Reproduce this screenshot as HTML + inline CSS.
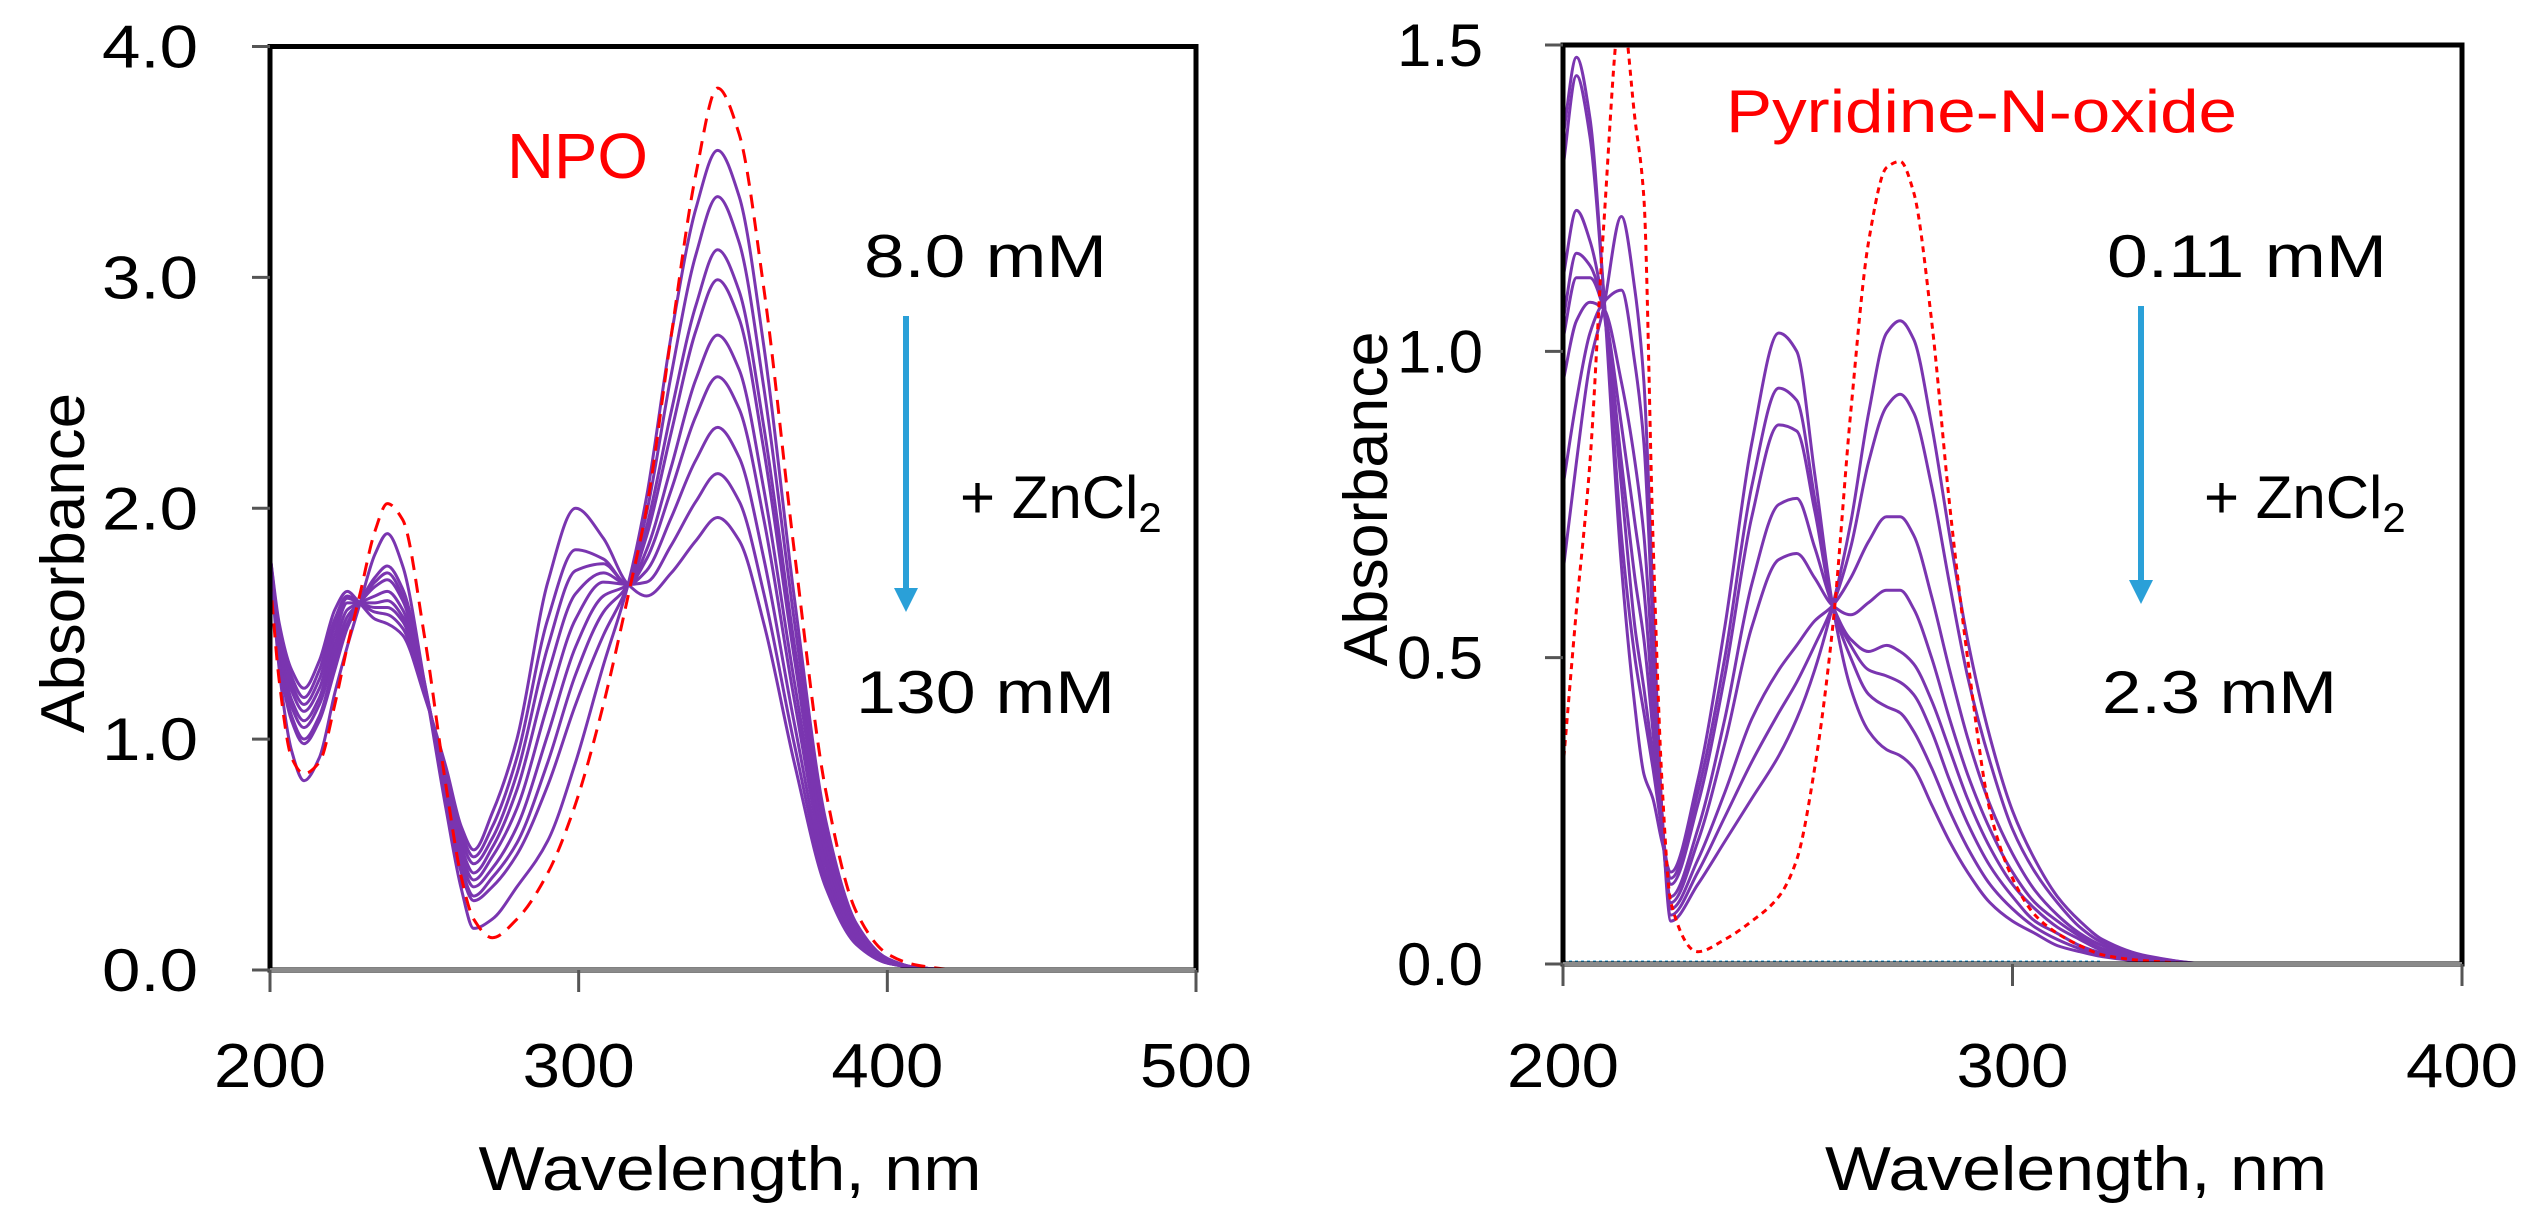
<!DOCTYPE html>
<html><head><meta charset="utf-8"><style>
html,body{margin:0;padding:0;background:#fff;}
svg{display:block;font-family:"Liberation Sans",sans-serif;}
</style></head><body>
<svg id="fig" width="2542" height="1222" viewBox="0 0 2542 1222" xmlns="http://www.w3.org/2000/svg">
<defs>
<clipPath id="clipL"><rect x="270" y="46" width="926" height="924"/></clipPath>
<clipPath id="clipR"><rect x="1563" y="45" width="899" height="921"/></clipPath>
</defs>
<g id="left"></g>
<g id="right"></g>
</svg>
<script>
// ---------- Left panel data (NPO) ----------
const wlL = [200,203,207,211,216,221,225,229,234,238,243,250,257,262,266,272,280,290,299,308,316,322,330,338,345,352,360,370,380,390,400,410,425,500];
const npoRed = [1.70,1.25,0.92,0.85,0.90,1.15,1.40,1.62,1.90,2.02,1.95,1.45,0.80,0.40,0.22,0.14,0.22,0.42,0.72,1.15,1.62,2.00,2.75,3.45,3.82,3.62,2.95,1.80,0.78,0.25,0.07,0.02,0,0];
const npo0 = [1.80,1.30,0.95,0.82,0.92,1.20,1.40,1.58,1.80,1.89,1.75,1.25,0.70,0.35,0.18,0.22,0.36,0.56,0.90,1.32,1.67,2.05,2.75,3.30,3.55,3.35,2.70,1.60,0.65,0.20,0.05,0.01,0,0];
const npo1 = [1.80,1.35,1.08,0.98,1.08,1.30,1.48,1.59,1.70,1.75,1.65,1.25,0.75,0.42,0.30,0.36,0.50,0.80,1.15,1.45,1.67,1.98,2.58,3.10,3.35,3.15,2.52,1.50,0.60,0.18,0.05,0.01,0,0];
const npo2 = [1.80,1.37,1.10,1.00,1.10,1.33,1.50,1.59,1.68,1.72,1.62,1.24,0.76,0.44,0.32,0.40,0.55,0.90,1.28,1.55,1.67,1.92,2.42,2.88,3.12,2.94,2.35,1.40,0.56,0.17,0.04,0.01,0,0];
const npo3 = [1.80,1.40,1.14,1.05,1.15,1.37,1.53,1.59,1.66,1.69,1.60,1.24,0.78,0.47,0.36,0.44,0.62,1.02,1.40,1.62,1.67,1.88,2.33,2.77,2.99,2.82,2.25,1.34,0.54,0.16,0.04,0.01,0,0];
const npo4 = [1.80,1.42,1.17,1.08,1.18,1.41,1.56,1.59,1.62,1.64,1.56,1.23,0.80,0.50,0.39,0.49,0.70,1.15,1.52,1.68,1.67,1.82,2.18,2.56,2.75,2.60,2.08,1.24,0.50,0.15,0.04,0.01,0,0];
const npo5 = [1.80,1.44,1.21,1.12,1.22,1.45,1.59,1.59,1.59,1.60,1.53,1.22,0.82,0.53,0.42,0.53,0.78,1.28,1.63,1.72,1.67,1.78,2.08,2.40,2.57,2.43,1.95,1.16,0.46,0.14,0.04,0.01,0,0];
const npo6 = [1.80,1.46,1.24,1.15,1.26,1.49,1.61,1.59,1.57,1.57,1.51,1.21,0.84,0.56,0.46,0.57,0.85,1.40,1.73,1.76,1.67,1.73,1.96,2.21,2.35,2.22,1.78,1.06,0.42,0.13,0.03,0.01,0,0];
const npo7 = [1.80,1.48,1.27,1.18,1.30,1.52,1.62,1.59,1.55,1.54,1.48,1.20,0.86,0.59,0.49,0.62,0.92,1.52,1.82,1.78,1.67,1.68,1.84,2.03,2.15,2.03,1.63,0.97,0.39,0.12,0.03,0.01,0,0];
const npo8 = [1.80,1.50,1.30,1.22,1.34,1.56,1.64,1.59,1.52,1.50,1.45,1.19,0.88,0.62,0.52,0.68,1.00,1.68,2.00,1.87,1.67,1.62,1.72,1.86,1.96,1.86,1.50,0.89,0.36,0.11,0.03,0.01,0,0];
const npoPurple = [npo0,npo1,npo2,npo3,npo4,npo5,npo6,npo7,npo8];
const xTicksL = [200,300,400,500];
const yTicksL = [0,1,2,3,4];
const yTickLabelsL = ["0.0","1.0","2.0","3.0","4.0"];

// ---------- Right panel data (Pyridine-N-oxide) ----------
const wlR = [200,203,206,209,213,216,218,220,222,224,230,236,242,248,252,256,260,264,268,272,275,278,282,286,290,295,300,305,310,315,320,330,345,400];
const pnoRed = [0.32,0.58,0.82,1.20,1.56,1.38,1.25,0.70,0.30,0.10,0.02,0.04,0.07,0.11,0.17,0.32,0.55,0.90,1.18,1.30,1.31,1.26,1.05,0.75,0.50,0.25,0.14,0.08,0.05,0.03,0.015,0.005,0,0];
const pno0 = [0.64,0.82,0.98,1.07,1.22,1.10,0.95,0.60,0.25,0.07,0.13,0.20,0.27,0.34,0.40,0.48,0.585,0.72,0.90,1.03,1.05,1.02,0.88,0.70,0.53,0.37,0.25,0.17,0.11,0.07,0.04,0.013,0,0];
const pno1 = [0.78,0.92,1.03,1.08,1.10,0.98,0.85,0.55,0.25,0.08,0.15,0.24,0.33,0.41,0.46,0.52,0.585,0.68,0.82,0.91,0.93,0.90,0.78,0.62,0.47,0.33,0.22,0.15,0.10,0.06,0.035,0.012,0,0];
const pno2 = [0.95,1.05,1.08,1.07,0.95,0.82,0.70,0.48,0.24,0.09,0.17,0.28,0.40,0.48,0.52,0.56,0.585,0.63,0.69,0.73,0.73,0.70,0.60,0.48,0.37,0.26,0.18,0.12,0.08,0.05,0.03,0.01,0,0];
const pno3 = [1.02,1.12,1.12,1.07,0.88,0.72,0.61,0.42,0.22,0.10,0.20,0.36,0.55,0.66,0.67,0.63,0.585,0.57,0.59,0.61,0.61,0.58,0.50,0.40,0.31,0.22,0.15,0.10,0.07,0.045,0.025,0.008,0,0];
const pno4 = [1.05,1.16,1.14,1.07,0.82,0.63,0.53,0.38,0.22,0.11,0.22,0.40,0.62,0.75,0.76,0.68,0.585,0.53,0.51,0.52,0.51,0.49,0.43,0.35,0.27,0.19,0.13,0.09,0.06,0.04,0.022,0.007,0,0];
const pno5 = [1.12,1.23,1.18,1.07,0.78,0.55,0.45,0.34,0.22,0.13,0.26,0.47,0.73,0.88,0.87,0.74,0.585,0.52,0.48,0.47,0.46,0.44,0.38,0.30,0.23,0.16,0.11,0.07,0.05,0.03,0.018,0.006,0,0];
const pno6 = [1.30,1.45,1.35,1.10,0.70,0.50,0.41,0.32,0.22,0.14,0.28,0.50,0.78,0.94,0.92,0.76,0.585,0.50,0.44,0.42,0.41,0.38,0.32,0.25,0.19,0.13,0.09,0.06,0.04,0.025,0.015,0.005,0,0];
const pno7 = [1.35,1.48,1.38,1.10,0.65,0.42,0.31,0.27,0.20,0.15,0.30,0.55,0.85,1.03,1.00,0.80,0.585,0.45,0.38,0.35,0.34,0.32,0.26,0.20,0.15,0.10,0.07,0.05,0.03,0.02,0.012,0.004,0,0];
const pnoPurple = [pno0,pno1,pno2,pno3,pno4,pno5,pno6,pno7];
const xTicksR = [200,300,400];
const yTicksR = [0,0.5,1.0,1.5];
const yTickLabelsR = ["0.0","0.5","1.0","1.5"];

const NS = "http://www.w3.org/2000/svg";
function mk(tag, attrs, parent){ const e=document.createElementNS(NS,tag); for(const k in attrs) e.setAttribute(k,attrs[k]); parent.appendChild(e); return e; }

function monoPath(pts){
  const n=pts.length; if(n<2) return "";
  const dx=[],dy=[],m=[];
  for(let i=0;i<n-1;i++){dx.push(pts[i+1][0]-pts[i][0]);dy.push(pts[i+1][1]-pts[i][1]);m.push(dy[i]/dx[i]);}
  const t=[m[0]];
  for(let i=1;i<n-1;i++){ if(m[i-1]*m[i]<=0) t.push(0); else { const w1=2*dx[i]+dx[i-1], w2=dx[i]+2*dx[i-1]; t.push((w1+w2)/(w1/m[i-1]+w2/m[i])); } }
  t.push(m[n-2]);
  let d="M"+pts[0][0].toFixed(1)+","+pts[0][1].toFixed(1);
  for(let i=0;i<n-1;i++){
    const h=dx[i]/3;
    d+=" C"+(pts[i][0]+h).toFixed(1)+","+(pts[i][1]+t[i]*h).toFixed(1)+" "+(pts[i+1][0]-h).toFixed(1)+","+(pts[i+1][1]-t[i+1]*h).toFixed(1)+" "+pts[i+1][0].toFixed(1)+","+pts[i+1][1].toFixed(1);
  }
  return d;
}

function panel(g, cfg){
  const sx = v => cfg.x0 + (v-cfg.xmin)/(cfg.xmax-cfg.xmin)*(cfg.x1-cfg.x0);
  const sy = v => cfg.y0 - (v-cfg.ymin)/(cfg.ymax-cfg.ymin)*(cfg.y0-cfg.y1);
  const cg = mk("g",{"clip-path":"url(#"+cfg.clip+")"},g);
  cfg.purple.forEach((arr,i)=>{
    const p = mk("path",{d:monoPath(cfg.wl.map((w,j)=>[sx(w),sy(arr[j])])),fill:"none",stroke:"#7a35b0","stroke-width":3,"stroke-linejoin":"round"},cg);
    
    
  });
  const r = mk("path",{d:monoPath(cfg.wl.map((w,j)=>[sx(w),sy(cfg.red[j])])),fill:"none",stroke:"#ff0000","stroke-width":3,"stroke-dasharray":cfg.dash},cg);
  
  
  if(cfg.baseline){
    const b = mk("line",{x1:cfg.x0,x2:sx(320),y1:cfg.y0-2,y2:cfg.y0-2,stroke:"#2aa0d8","stroke-width":3,"stroke-dasharray":"3,3"},g);
    
    
  }
  const f = mk("rect",{x:cfg.x0,y:cfg.y1,width:cfg.x1-cfg.x0,height:cfg.y0-cfg.y1,fill:"none",stroke:"#000","stroke-width":5},g);
  
  
  mk("line",{x1:cfg.x0,x2:cfg.x1,y1:cfg.y0,y2:cfg.y0,stroke:"#8a8a8a","stroke-width":4},g);
  cfg.yt.forEach((v,i)=>{
    const y=sy(v);
    mk("line",{x1:cfg.x0-18,x2:cfg.x0,y1:y,y2:y,stroke:"#555","stroke-width":3},g);
    const t=mk("text",{x:cfg.ylx,y:y+21,"text-anchor":"end","font-size":60,fill:"#000",textLength:cfg.ylw,lengthAdjust:"spacingAndGlyphs"},g);
    t.textContent=cfg.ytl[i];
    
    
  });
  cfg.xt.forEach(v=>{
    const x=sx(v);
    mk("line",{x1:x,x2:x,y1:cfg.y0,y2:cfg.y0+22,stroke:"#555","stroke-width":3},g);
    const t=mk("text",{x:x,y:1087,"text-anchor":"middle","font-size":62,fill:"#000",textLength:112,lengthAdjust:"spacingAndGlyphs"},g);
    t.textContent=String(v);
    
    
  });
}

panel(document.getElementById("left"),{x0:270,x1:1196,y0:970,y1:46.5,xmin:200,xmax:500,ymin:0,ymax:4,clip:"clipL",
  wl:wlL,purple:npoPurple,red:npoRed,dash:"14,9",xt:xTicksL,yt:yTicksL,ytl:yTickLabelsL,ylx:198,ylw:96,baseline:false});
panel(document.getElementById("right"),{x0:1563,x1:2462,y0:964,y1:45,xmin:200,xmax:400,ymin:0,ymax:1.5,clip:"clipR",
  wl:wlR,purple:pnoPurple,red:pnoRed,dash:"6,5",xt:xTicksR,yt:yTicksR,ytl:yTickLabelsR,ylx:1483,ylw:86,baseline:true});
</script>
<svg style="position:absolute;left:0;top:0" width="2542" height="1222" xmlns="http://www.w3.org/2000/svg" font-family="Liberation Sans, sans-serif">
<defs><marker id="ah" viewBox="0 0 10 10" refX="5" refY="5" markerWidth="4" markerHeight="4" orient="auto"><path d="M0,0 L10,5 L0,10 z" fill="#2aa0d8"/></marker></defs>
<text x="730" y="1190" text-anchor="middle" font-size="62" textLength="503" lengthAdjust="spacingAndGlyphs">Wavelength, nm</text>
<text x="2076" y="1190" text-anchor="middle" font-size="62" textLength="502" lengthAdjust="spacingAndGlyphs">Wavelength, nm</text>
<text transform="translate(84,563) rotate(-90)" text-anchor="middle" font-size="62" textLength="340" lengthAdjust="spacingAndGlyphs">Absorbance</text>
<text transform="translate(1387,499) rotate(-90)" text-anchor="middle" font-size="62" textLength="335" lengthAdjust="spacingAndGlyphs">Absorbance</text>
<text x="507" y="178" font-size="64" fill="#ff0000" textLength="141" lengthAdjust="spacingAndGlyphs">NPO</text>
<text x="864" y="277" font-size="60" textLength="243" lengthAdjust="spacingAndGlyphs">8.0 mM</text>
<line x1="906" y1="316" x2="906" y2="600" stroke="#2aa0d8" stroke-width="6" marker-end="url(#ah)"/>
<text x="960" y="518" font-size="60">+ ZnCl<tspan font-size="42" dy="14">2</tspan></text>
<text x="856" y="713" font-size="60" textLength="259" lengthAdjust="spacingAndGlyphs">130 mM</text>
<text x="1726" y="132" font-size="60" fill="#ff0000" textLength="511" lengthAdjust="spacingAndGlyphs">Pyridine-N-oxide</text>
<text x="2107" y="277" font-size="60" textLength="280" lengthAdjust="spacingAndGlyphs">0.11 mM</text>
<line x1="2141" y1="306" x2="2141" y2="592" stroke="#2aa0d8" stroke-width="6" marker-end="url(#ah)"/>
<text x="2204" y="518" font-size="60">+ ZnCl<tspan font-size="42" dy="14">2</tspan></text>
<text x="2102" y="713" font-size="60" textLength="235" lengthAdjust="spacingAndGlyphs">2.3 mM</text>
</svg>
</body></html>
